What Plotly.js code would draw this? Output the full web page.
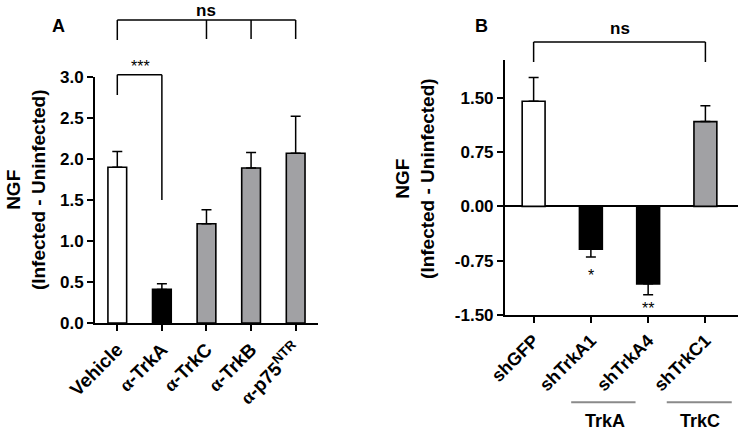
<!DOCTYPE html>
<html>
<head>
<meta charset="utf-8">
<script src="https://cdn.plot.ly/plotly-3.0.1.min.js"></script>
<style>html,body{margin:0;padding:0;background:#fff;}#chart{width:741px;height:432px;}</style>
</head>
<body>
<div id="chart"></div>
<script>
// ---- Data ----
const categoriesA = ['Vehicle', 'a-TrkA', 'a-TrkC', 'a-TrkB', 'a-p75NTR'];
const tickLabelsA = ['Vehicle', 'α-TrkA', 'α-TrkC', 'α-TrkB', 'α-p75<sup>NTR</sup>'];
const valuesA = [1.90, 0.41, 1.21, 1.89, 2.07];
const errorsA = [0.19, 0.07, 0.17, 0.19, 0.45];

const categoriesB = ['shGFP', 'shTrkA1', 'shTrkA4', 'shTrkC1'];
const valuesB = [1.45, -0.59, -1.07, 1.17];
const errorsB = [0.33, 0.11, 0.15, 0.22];

const yTicksA = [0, 0.5, 1.0, 1.5, 2.0, 2.5, 3.0];
const yTickLabelsA = ['0.0', '0.5', '1.0', '1.5', '2.0', '2.5', '3.0'];
const yTicksB = [-1.5, -0.75, 0, 0.75, 1.5];
const yTickLabelsB = ['-1.50', '-0.75', '0.00', '0.75', '1.50'];

// ---- Styles ----
const WHITE = '#ffffff', BLACK = '#000000', GRAY = '#a1a1a4';
const colorsA = [WHITE, BLACK, GRAY, GRAY, GRAY];
const colorsB = [WHITE, BLACK, BLACK, GRAY];
const FONT = 'Liberation Sans, Arial, sans-serif';
const alpha = s => s.replace('α', '<span style="font-family:\'Liberation Serif\',serif">α</span>');

const plusB = valuesB.map((v, i) => v >= 0 ? errorsB[i] : 0);
const minusB = valuesB.map((v, i) => v < 0 ? errorsB[i] : 0);

const traceA = {
  type: 'bar', x: categoriesA, y: valuesA, xaxis: 'x', yaxis: 'y', width: 0.42,
  marker: {color: colorsA, line: {color: BLACK, width: 1.6}},
  error_y: {type: 'data', symmetric: false, array: errorsA, arrayminus: errorsA.map(() => 0),
            color: BLACK, thickness: 1.5, width: 5},
  showlegend: false, hoverinfo: 'none'
};
const traceB = {
  type: 'bar', x: categoriesB, y: valuesB, xaxis: 'x2', yaxis: 'y2', width: 0.4,
  marker: {color: colorsB, line: {color: BLACK, width: 1.6}},
  error_y: {type: 'data', symmetric: false, array: plusB, arrayminus: minusB,
            color: BLACK, thickness: 1.5, width: 5},
  showlegend: false, hoverinfo: 'none'
};

const axisCommon = {
  showline: true, linecolor: BLACK, linewidth: 2, showgrid: false,
  ticks: 'outside', ticklen: 6, tickwidth: 2, tickcolor: BLACK,
  tickfont: {family: FONT, size: 17, color: BLACK, weight: 'bold'}
};

function ann(text, xref, x, y, size, extra, plain) {
  return Object.assign({text: plain ? text : '<b>' + text + '</b>', xref: xref, yref: 'paper', x: x, y: y,
    xanchor: 'center', yanchor: 'middle', showarrow: false,
    font: {family: FONT, size: size, color: BLACK}}, extra || {});
}

const layout = {
  width: 741, height: 432,
  margin: {l: 0, r: 0, t: 0, b: 0},
  paper_bgcolor: '#fff', plot_bgcolor: '#fff',
  font: {family: FONT, color: BLACK},
  xaxis: Object.assign({}, axisCommon, {
    domain: [0.1282, 0.4291], anchor: 'y', type: 'category', range: [-0.5, 4.5],
    tickmode: 'array', tickvals: categoriesA, ticktext: tickLabelsA.map(alpha), tickangle: -45,
    tickfont: {family: FONT, size: 19, color: BLACK, weight: 'bold'}
  }),
  yaxis: Object.assign({}, axisCommon, {
    domain: [0.2523, 0.8218], anchor: 'x', range: [0, 3.0], zeroline: false,
    tickmode: 'array', tickvals: yTicksA, ticktext: yTickLabelsA
  }),
  xaxis2: Object.assign({}, axisCommon, {
    domain: [0.6815, 0.996], anchor: 'y2', type: 'category', range: [-0.5, 3.57],
    tickmode: 'array', tickvals: categoriesB, ticktext: categoriesB, tickangle: -45,
    tickfont: {family: FONT, size: 18, color: BLACK, weight: 'bold'}
  }),
  yaxis2: Object.assign({}, axisCommon, {
    domain: [0.2708, 0.8611], anchor: 'x2', range: [-1.5, 2.02],
    zeroline: true, zerolinecolor: BLACK, zerolinewidth: 2,
    tickmode: 'array', tickvals: yTicksB, ticktext: yTickLabelsB
  }),
  shapes: [
    // Panel A: ns bracket
    {type: 'line', xref: 'x', yref: 'paper', x0: 0, x1: 4, y0: 0.9537, y1: 0.9537, line: {color: BLACK, width: 1.5}},
    {type: 'line', xref: 'x', yref: 'paper', x0: 0, x1: 0, y0: 0.9537, y1: 0.9074, line: {color: BLACK, width: 1.5}},
    {type: 'line', xref: 'x', yref: 'paper', x0: 2, x1: 2, y0: 0.9537, y1: 0.9097, line: {color: BLACK, width: 1.5}},
    {type: 'line', xref: 'x', yref: 'paper', x0: 3, x1: 3, y0: 0.9537, y1: 0.9097, line: {color: BLACK, width: 1.5}},
    {type: 'line', xref: 'x', yref: 'paper', x0: 4, x1: 4, y0: 0.9537, y1: 0.9097, line: {color: BLACK, width: 1.5}},
    // Panel A: *** bracket
    {type: 'line', xref: 'x', yref: 'paper', x0: 0, x1: 1, y0: 0.8271, y1: 0.8271, line: {color: BLACK, width: 1.5}},
    {type: 'line', xref: 'x', yref: 'paper', x0: 0, x1: 0, y0: 0.8271, y1: 0.7801, line: {color: BLACK, width: 1.5}},
    {type: 'line', xref: 'x', yref: 'paper', x0: 1, x1: 1, y0: 0.8271, y1: 0.537, line: {color: BLACK, width: 1.5}},
    // Panel B: ns bracket
    {type: 'line', xref: 'x2', yref: 'paper', x0: 0, x1: 3, y0: 0.9028, y1: 0.9028, line: {color: BLACK, width: 1.5}},
    {type: 'line', xref: 'x2', yref: 'paper', x0: 0, x1: 0, y0: 0.9028, y1: 0.8565, line: {color: BLACK, width: 1.5}},
    {type: 'line', xref: 'x2', yref: 'paper', x0: 3, x1: 3, y0: 0.9028, y1: 0.8565, line: {color: BLACK, width: 1.5}},
    // Panel B: group lines
    {type: 'line', xref: 'x2', yref: 'paper', x0: 0.656, x1: 1.78, y0: 0.0687, y1: 0.0687, line: {color: '#8a8a8a', width: 2}},
    {type: 'line', xref: 'x2', yref: 'paper', x0: 2.325, x1: 3.46, y0: 0.0687, y1: 0.0687, line: {color: '#8a8a8a', width: 2}}
  ],
  annotations: [
    ann('A', 'paper', 0.0796, 0.9398, 18),
    ann('B', 'paper', 0.650, 0.9398, 18),
    ann('ns', 'x', 2, 1.0, 17, {yanchor: 'top', borderpad: 0}),
    ann('***', 'x', 0.53, 0.846, 16, null, true),
    ann('ns', 'x2', 1.5, 0.934, 17),
    ann('*', 'x2', 1, 0.362, 16, null, true),
    ann('**', 'x2', 2, 0.287, 16, null, true),
    ann('TrkA', 'x2', 1.24, 0.0262, 18),
    ann('TrkC', 'x2', 2.9, 0.0262, 18),
    ann('NGF<br>(Infected - Uninfected)', 'paper', 0.0351, 0.560, 19, {textangle: -90}),
    ann('NGF<br>(Infected - Uninfected)', 'paper', 0.560, 0.588, 19, {textangle: -90})
  ]
};

Plotly.newPlot('chart', [traceA, traceB], layout, {staticPlot: true, displayModeBar: false});
</script>
</body>
</html>
